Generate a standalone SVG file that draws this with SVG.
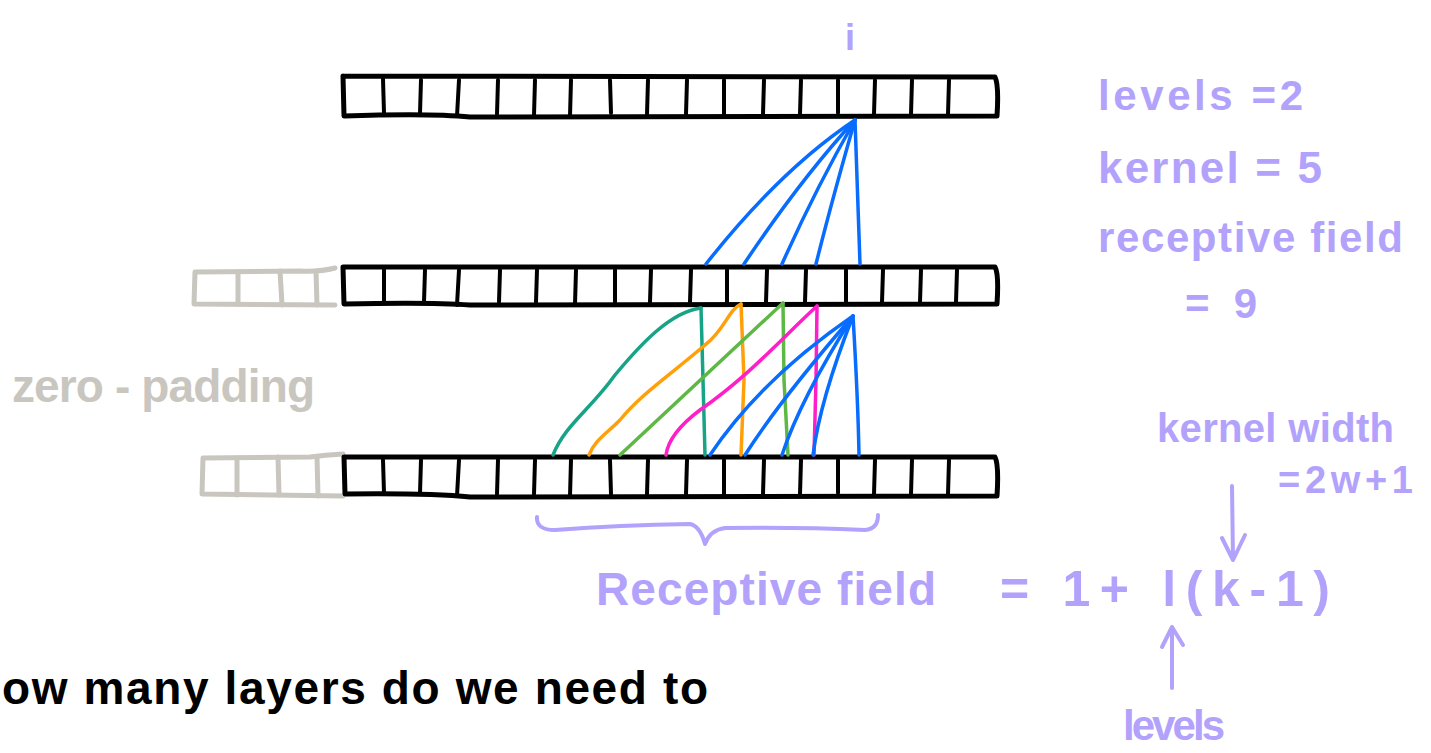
<svg xmlns="http://www.w3.org/2000/svg" width="1431" height="753" viewBox="0 0 1431 753">
<defs>
<style>
.row{fill:none;stroke:#000;stroke-width:5;stroke-linecap:round;stroke-linejoin:round}
.div{fill:none;stroke:#000;stroke-width:4;stroke-linecap:round}
.pad{fill:none;stroke:#c9c6bf;stroke-width:5;stroke-linecap:round;stroke-linejoin:round}
.ln{fill:none;stroke-width:3.5;stroke-linecap:round;stroke-linejoin:round}
.teal{stroke:#17a386}.orange{stroke:#ffa00a}.green{stroke:#5db845}.mag{stroke:#ff1fc9}.blue{stroke:#086cff}
.pur{fill:#b2a2fc;font-family:"Liberation Sans","DejaVu Sans",sans-serif;font-weight:700}
.purs{fill:none;stroke:#b2a2fc;stroke-width:4;stroke-linecap:round;stroke-linejoin:round}
.blk{fill:#000;font-family:"Liberation Sans","DejaVu Sans",sans-serif;font-weight:700}
.gry{fill:#c9c6bf;font-family:"Liberation Sans","DejaVu Sans",sans-serif;font-weight:700}
</style>
</defs>
<rect width="1431" height="753" fill="#fff"/>

<g id="pad-middle">
<path class="pad" d="M335,268 Q320,272 300,271 L195,272 L194,304 L335,305"/>
<path class="pad" d="M238,272 L238,304 M280,271 L282,305 M316,271 L317,305"/>
</g>
<g id="pad-bottom">
<path class="pad" d="M343,454 Q325,455 310,457 L203,458 L202,494 L343,496"/>
<path class="pad" d="M237,458 L237,495 M278,457 L279,495 M317,457 L318,496"/>
</g>

<g id="row-top">
<path class="row" d="M343,76 L995,77 Q999,85 997,116 Q700,116 470,117 Q430,113 344,116 L343,76"/>
<path class="div" d="M383,79 L384,113 M421,80 L420,113 M459,80 L457,116 M498,80 L497,114 M535,80 L534,115 M571,80 L570,116 M610,80 L611,113 M648,80 L647,114 M687,80 L686,114 M724,80 L724,114 M764,80 L763,114 M801,80 L800,114 M838,80 L838,113 M875,80 L874,114 M912,80 L911,114 M949,80 L948,114"/>
</g>
<g id="row-middle">
<path class="row" d="M343,267 L995,267 Q999,274 997,304 Q700,305 470,305 Q430,302 344,304 L343,267"/>
<path class="div" d="M384,270 L384,302 M425,270 L424,302 M459,270 L457,305 M500,270 L499,302 M537,270 L536,302 M576,270 L575,304 M615,270 L615,302 M651,270 L650,302 M691,270 L690,302 M727,270 L727,302 M767,270 L766,302 M806,270 L805,302 M846,270 L846,302 M883,270 L882,302 M921,270 L920,302 M957,270 L956,302"/>
</g>
<g id="row-bottom">
<path class="row" d="M344,457 L995,457 Q999,465 997,496 Q700,497 470,497 Q430,493 345,494 L344,457"/>
<path class="div" d="M383,460 L384,493 M421,460 L420,493 M459,460 L457,496 M498,460 L497,494 M535,460 L534,494 M571,460 L570,496 M610,460 L611,494 M648,460 L647,494 M687,460 L686,494 M724,460 L724,494 M764,460 L763,494 M801,460 L800,494 M838,460 L838,493 M875,460 L874,494 M912,460 L911,494 M949,460 L948,494"/>
</g>

<g id="connectors">
<g id="fan-top">
<path class="ln blue" d="M855,120 Q780,170 706,264"/>
<path class="ln blue" d="M855,120 Q800,180 744,264"/>
<path class="ln blue" d="M855,120 Q815,190 782,264"/>
<path class="ln blue" d="M855,120 Q832,200 816,264"/>
<path class="ln blue" d="M855,120 Q858,200 860,264"/>
</g>
<g id="fan-teal">
<path class="ln teal" d="M701,308 C670,312 640,345 615,375 C590,410 565,425 553,455"/>
<path class="ln teal" d="M701,308 L703,380 L705,455"/>
</g>
<g id="fan-orange">
<path class="ln orange" d="M741,304 C728,310 725,330 705,345 C670,375 640,395 620,420 C605,435 595,440 589,455"/>
<path class="ln orange" d="M741,304 L744,380 L741,455"/>
</g>
<g id="fan-green">
<path class="ln green" d="M783,303 Q700,380 620,455"/>
<path class="ln green" d="M783,303 L784,380 L788,455"/>
</g>
<g id="fan-magenta">
<path class="ln mag" d="M817,306 C780,340 750,375 700,410 C680,425 668,440 666,455"/>
<path class="ln mag" d="M817,306 L816,380 L814,455"/>
</g>
<g id="fan-blue">
<path class="ln blue" d="M853,316 Q760,380 710,455"/>
<path class="ln blue" d="M853,316 Q780,400 745,455"/>
<path class="ln blue" d="M853,316 Q800,400 782,455"/>
<path class="ln blue" d="M853,316 Q820,400 813,455"/>
<path class="ln blue" d="M853,316 Q858,400 859,455"/>
</g>
<path id="brace" class="purs" d="M537,517 Q536,530 555,530 Q620,525 690,524 Q700,526 705,544 Q710,530 725,528 Q800,527 865,530 Q878,529 878,515"/>
<g id="arrow-kernel">
<path class="purs" d="M1232,486 L1233,560 M1222,538 L1233,560 L1245,535"/>
</g>
<g id="arrow-levels">
<path class="purs" d="M1172,688 L1172,627 M1162,647 L1172,627 L1183,645"/>
</g>
</g>

<g id="labels">
<text class="pur" x="845" y="50" font-size="36">i</text>
<text class="pur" x="1098" y="110" font-size="42" textLength="205" lengthAdjust="spacing">levels =2</text>
<text class="pur" x="1098" y="183" font-size="44" textLength="224" lengthAdjust="spacing">kernel = 5</text>
<text class="pur" x="1098" y="252" font-size="42" textLength="305" lengthAdjust="spacing">receptive field</text>
<text class="pur" x="1185" y="318" font-size="42" textLength="72" lengthAdjust="spacing">= 9</text>
<text class="gry" x="12" y="402" font-size="46" textLength="303" lengthAdjust="spacing">zero - padding</text>
<text class="pur" x="1157" y="442" font-size="40" textLength="237" lengthAdjust="spacing">kernel width</text>
<text class="pur" x="1278" y="493" font-size="38" textLength="135" lengthAdjust="spacing">=2w+1</text>
<text class="pur" x="596" y="605" font-size="46" textLength="340" lengthAdjust="spacing">Receptive field</text>
<text class="pur" x="1000" y="606" font-size="50" textLength="330" lengthAdjust="spacing">= 1+ l(k-1)</text>
<text class="pur" x="1123" y="740" font-size="42" textLength="102" lengthAdjust="spacing">levels</text>
<text class="blk" x="2" y="704" font-size="46" textLength="706" lengthAdjust="spacing">ow many layers do we need to</text>
</g>
</svg>
